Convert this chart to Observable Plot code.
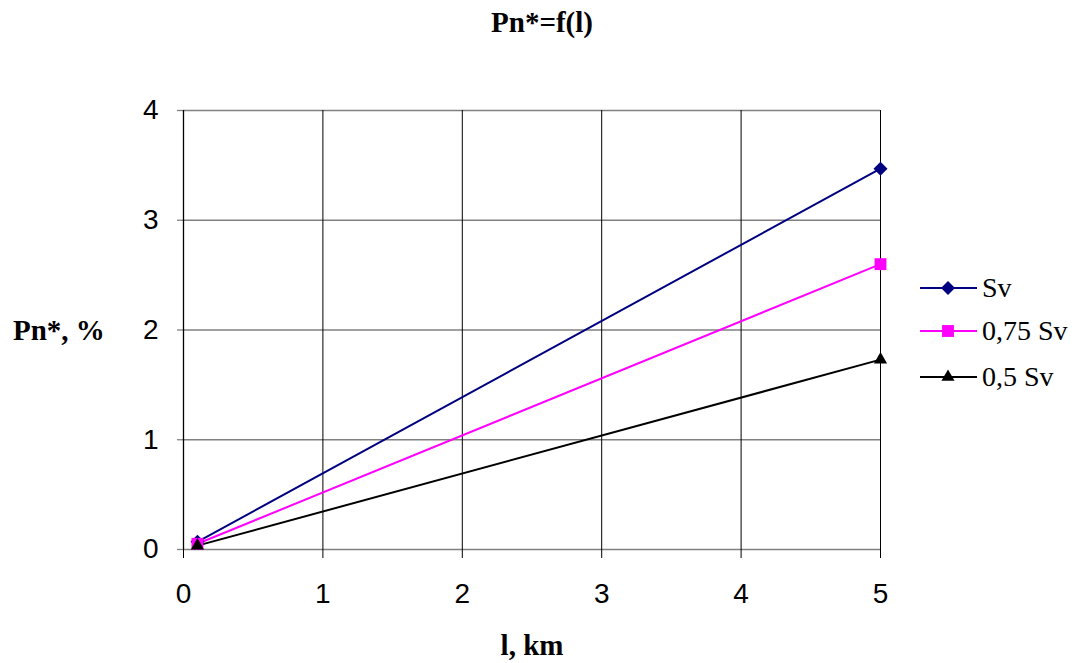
<!DOCTYPE html>
<html>
<head>
<meta charset="utf-8">
<script src="https://cdn.jsdelivr.net/npm/d3@7"></script>
<script src="https://cdn.jsdelivr.net/npm/@observablehq/plot@0.6"></script>
<style>
  html, body { margin: 0; padding: 0; background: #fff; }
  #chart svg { display: block; }
</style>
</head>
<body>
<div id="chart"></div>
<script>
// Line length, km
const lengths = [0.1, 5];
// Relative losses Pn*, % for each load level
const svValues = [0.07, 3.47];
const sv075Values = [0.052, 2.6];
const sv05Values = [0.035, 1.73];

const seriesNames = ["Sv", "0,75 Sv", "0,5 Sv"];
const seriesColors = ["#000080", "#FF00FF", "#000000"];
const seriesSymbols = ["diamond2", "square", "triangle"];
const seriesRadius = [6.3, 6.7, 4.9];

const xTicks = [0, 1, 2, 3, 4, 5];
const yTicks = [0, 1, 2, 3, 4];

const seriesValues = [svValues, sv075Values, sv05Values];
const rows = seriesNames.flatMap((name, i) =>
  lengths.map((l, j) => ({ series: name, l, p: seriesValues[i][j] }))
);

const W = 1080, H = 663;
const chart = Plot.plot({
  width: W,
  height: H,
  marginLeft: 183,
  marginRight: 200,
  marginTop: 110,
  marginBottom: 114,
  style: { fontFamily: "'Liberation Sans', Arial, sans-serif", background: "#fff", overflow: "visible" },
  x: { domain: [0, 5], ticks: xTicks },
  y: { domain: [0, 4], ticks: yTicks },
  color: { domain: seriesNames, range: seriesColors },
  symbol: { domain: seriesNames, range: seriesSymbols },
  marks: [
    Plot.gridY(yTicks, { stroke: "#808080", strokeOpacity: 1, strokeWidth: 1.3 }),
    Plot.axisY(yTicks, { tickSize: 6, tickPadding: 19, stroke: "#808080", strokeWidth: 1.3, fontSize: 28, fill: "#000", tickFormat: d3.format("d"), label: null }),
    Plot.gridX(xTicks, { stroke: "#000", strokeOpacity: 1, strokeWidth: 1 }),
    Plot.axisX(xTicks, { tickSize: 9, tickPadding: 25, stroke: "#000", fontSize: 28, fill: "#000", tickFormat: d3.format("d"), label: null }),
    Plot.ruleX([0], { stroke: "#000", strokeWidth: 1.3 }),
    Plot.line(rows, { x: "l", y: "p", z: "series", stroke: "series", strokeWidth: 2 }),
    ...seriesNames.map((name, i) =>
      Plot.dot(rows.filter(d => d.series === name), {
        x: "l", y: "p", symbol: "series", fill: "series", stroke: "none", r: seriesRadius[i]
      })
    )
  ]
});

const svg = d3.select(chart);
const serif = "'Liberation Serif', 'Times New Roman', serif";

// Title and axis titles
svg.append("text").attr("x", 542).attr("y", 32).attr("text-anchor", "middle")
  .attr("font-family", serif).attr("font-weight", "bold").attr("font-size", 29).text("Pn*=f(l)");
svg.append("text").attr("x", 13).attr("y", 340).attr("text-anchor", "start")
  .attr("font-family", serif).attr("font-weight", "bold").attr("font-size", 29).text("Pn*, %");
svg.append("text").attr("x", 532).attr("y", 655).attr("text-anchor", "middle")
  .attr("font-family", serif).attr("font-weight", "bold").attr("font-size", 29).text("l, km");

// Legend
const legendY = [288, 331, 377];
const symbolTypes = { diamond2: d3.symbolDiamond2, square: d3.symbolSquare, triangle: d3.symbolTriangle };
const legend = svg.append("g");
seriesNames.forEach((name, i) => {
  const y = legendY[i];
  const g = legend.append("g");
  g.append("line").attr("x1", 920).attr("x2", 977).attr("y1", y).attr("y2", y)
    .attr("stroke", seriesColors[i]).attr("stroke-width", 2);
  g.append("path")
    .attr("transform", `translate(948,${y})`)
    .attr("d", d3.symbol(symbolTypes[seriesSymbols[i]], Math.PI * seriesRadius[i] ** 2)())
    .attr("fill", seriesColors[i]);
  g.append("text").attr("x", 982).attr("y", y + 9).attr("text-anchor", "start")
    .attr("font-family", serif).attr("font-size", 28).attr("fill", "#000").text(name);
});

document.getElementById("chart").appendChild(chart);
</script>
</body>
</html>
